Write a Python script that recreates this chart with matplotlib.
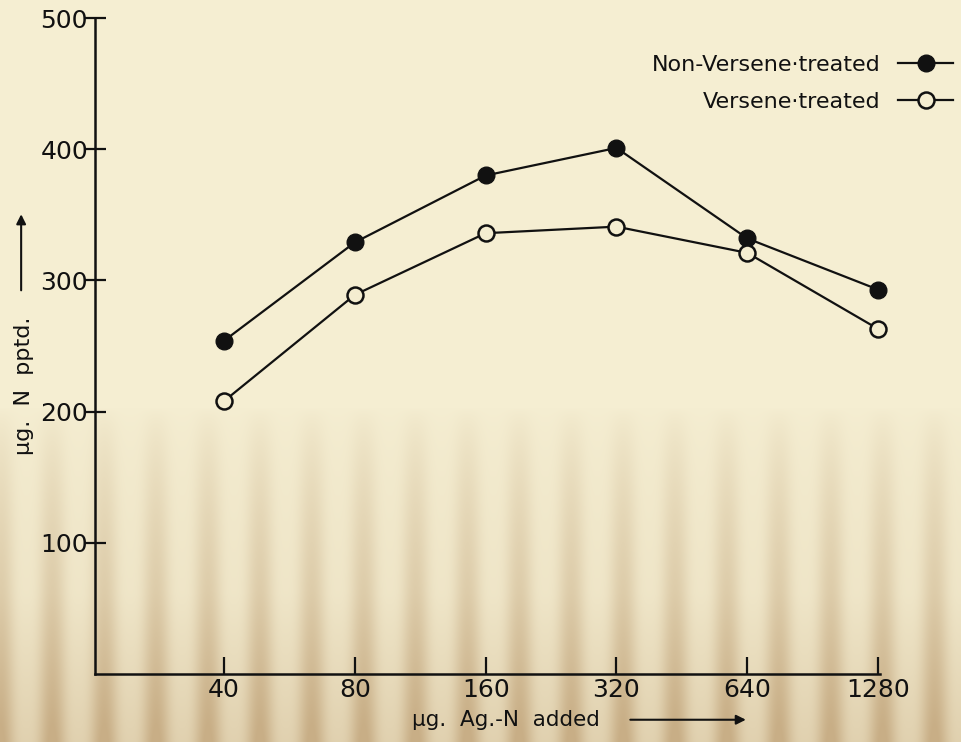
"""
Recreation: µg N precipitated vs µg Ag-N added (Versene vs non-Versene).
"""

import matplotlib
matplotlib.use("Agg")
import matplotlib.pyplot as plt
from matplotlib.patches import FancyArrowPatch
import numpy as np

# ── data ──────────────────────────────────────────────────────────────────────
AG_N_ADDED = [40, 80, 160, 320, 640, 1280]
NON_VERSENE = [254, 329, 380, 401, 332, 293]
VERSENE = [208, 289, 336, 341, 321, 263]
Y_TICKS = [100, 200, 300, 400, 500]

PAPER = "#f4edd0"
INK = "#111111"

plt.rcParams["font.family"] = ["DejaVu Sans"]


def _paper(fig):
    # cream paper with a tan, streaky lower half
    h, w = 742, 961
    yy = np.linspace(0, 1, h)[:, None]
    xx = np.linspace(0, 1, w)[None, :]
    streak = (0.5 + 0.5 * np.cos(2 * np.pi * xx * 18.5)) ** 1.5
    fade = np.clip((yy - 0.55) / 0.45, 0, 1) ** 0.7
    amt = fade * (0.2 + 0.6 * streak) + np.clip((yy - 0.8) / 0.2, 0, 1) * 0.25
    amt = np.clip(amt, 0, 1)
    top = np.array([245, 238, 210]) / 255
    low = np.array([200, 174, 134]) / 255
    img = top[None, None, :] * (1 - amt[..., None]) + low[None, None, :] * amt[..., None]
    fig.figimage(img, xo=0, yo=0, origin="upper", zorder=0)


def main():
    fig = plt.figure(figsize=(9.61, 7.42), dpi=100)
    _paper(fig)
    ax = fig.add_axes([0.0989, 0.0916, 0.8167, 0.8841])
    ax.set_zorder(2)
    ax.patch.set_alpha(0)

    ax.plot(AG_N_ADDED, NON_VERSENE, color=INK, lw=1.6, marker="o", ms=12,
            mfc=INK, mec=INK, label="Non-Versene\u00b7treated", zorder=3,
            clip_on=False)
    ax.plot(AG_N_ADDED, VERSENE, color=INK, lw=1.6, marker="o", ms=11.5,
            mfc=PAPER, mec=INK, mew=1.8, label="Versene\u00b7treated", zorder=3,
            clip_on=False)

    ax.set_xscale("log", base=2)
    ax.set_xlim(20.2, 1292)
    ax.set_ylim(0, 500)
    ax.set_xticks(AG_N_ADDED)
    ax.set_xticklabels([str(v) for v in AG_N_ADDED])
    ax.minorticks_off()
    ax.set_yticks(Y_TICKS)

    for s in ("top", "right"):
        ax.spines[s].set_visible(False)
    for s in ("left", "bottom"):
        ax.spines[s].set_linewidth(1.8)
        ax.spines[s].set_color(INK)

    ax.tick_params(axis="x", direction="in", length=12, width=1.6,
                   labelsize=18, pad=3, colors=INK)
    ax.tick_params(axis="y", direction="inout", length=16, width=1.6,
                   labelsize=18, pad=-3, colors=INK)

    # axis titles with arrows
    fig.text(0.429, 0.030, "\u00b5g.  Ag.-N  added", fontsize=15.5,
             ha="left", va="center", color=INK)
    fig.add_artist(FancyArrowPatch(
        (0.653, 0.030), (0.779, 0.030), transform=fig.transFigure,
        arrowstyle="-|>", mutation_scale=14, lw=1.5, color=INK, zorder=3))
    fig.text(0.025, 0.480, "\u00b5g.  N  pptd.", fontsize=16, rotation=90,
             ha="center", va="center", color=INK)
    fig.add_artist(FancyArrowPatch(
        (0.022, 0.605), (0.022, 0.715), transform=fig.transFigure,
        arrowstyle="-|>", mutation_scale=14, lw=1.5, color=INK, zorder=3))

    leg = ax.legend(loc="upper right", bbox_to_anchor=(1.013, 0.953),
                    bbox_transform=fig.transFigure, frameon=False,
                    markerfirst=False, fontsize=16, handlelength=2.5,
                    handletextpad=0.8, labelspacing=0.75)
    for t in leg.get_texts():
        t.set_color(INK)

    fig.savefig("out.png", dpi=100)


if __name__ == "__main__":
    main()
